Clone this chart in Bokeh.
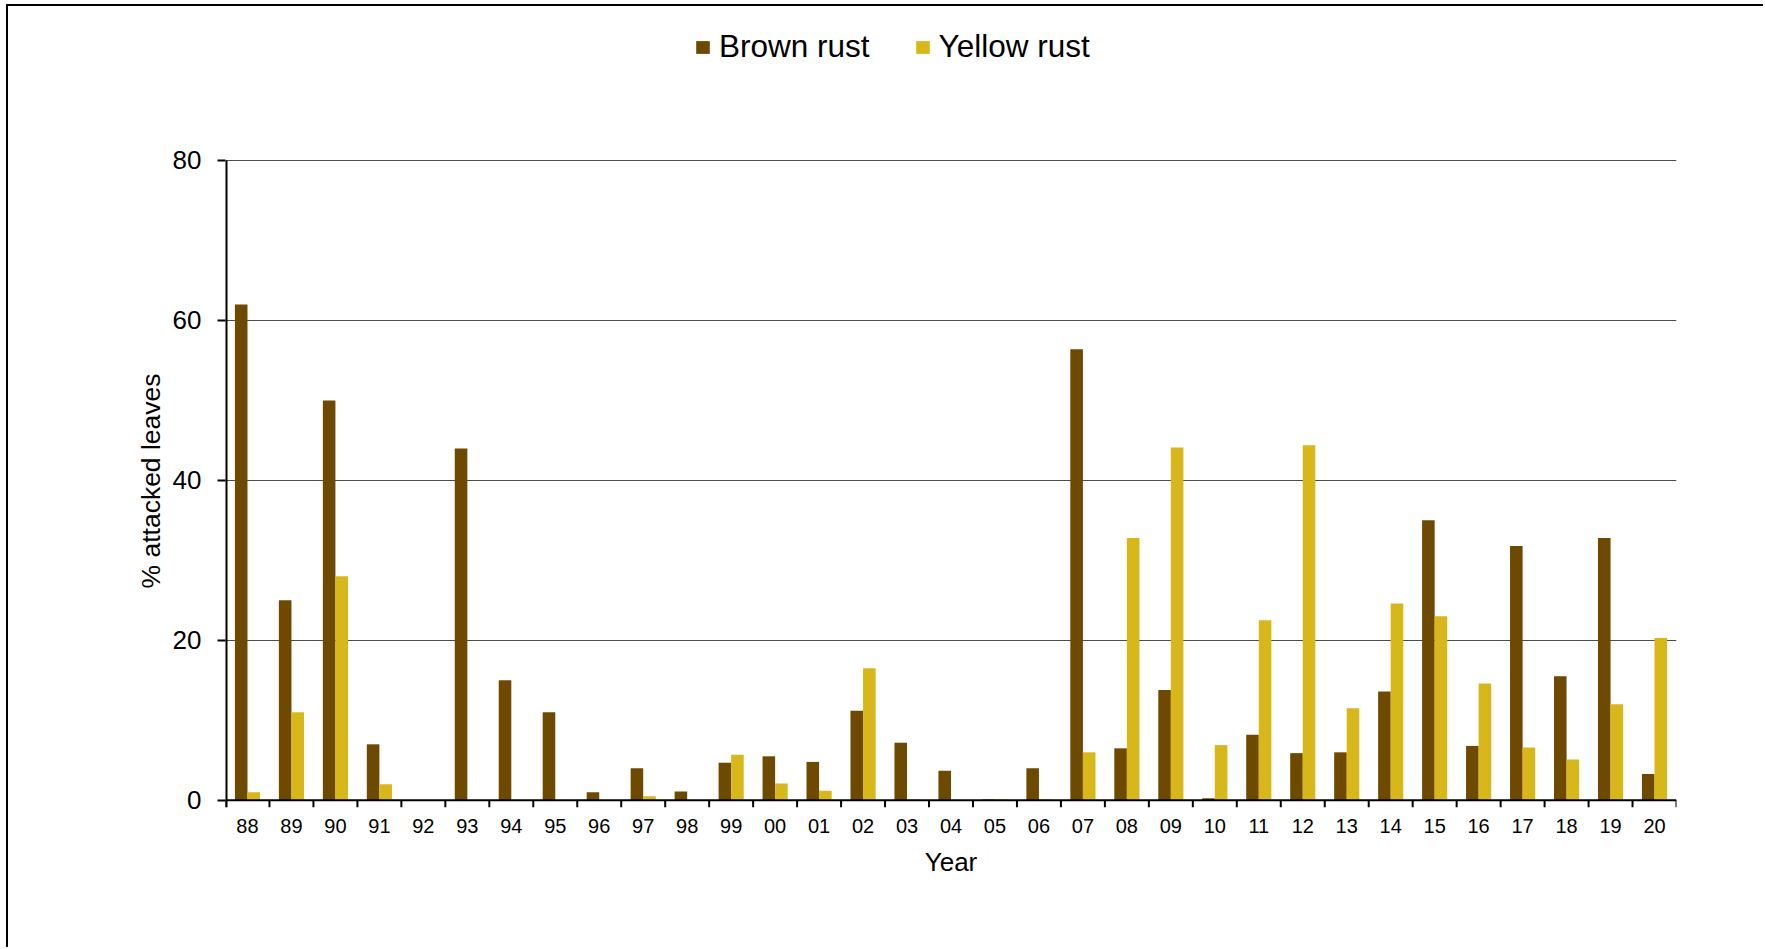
from bokeh.plotting import figure
from bokeh.models import (ColumnDataSource, Range1d, FixedTicker, Legend, LegendItem,
                          Span, Title)
from bokeh.embed import file_html
from bokeh.resources import INLINE

years = ["88", "89", "90", "91", "92", "93", "94", "95", "96", "97", "98", "99",
         "00", "01", "02", "03", "04", "05", "06", "07", "08", "09", "10", "11",
         "12", "13", "14", "15", "16", "17", "18", "19", "20"]
brown_rust = [62, 25, 50, 7, 0, 44, 15, 11, 1, 4, 1.1, 4.7, 5.5, 4.8, 11.2, 7.2,
              3.7, 0.1, 4.0, 56.4, 6.5, 13.8, 0.25, 8.2, 5.9, 6.0, 13.6, 35.0,
              6.8, 31.8, 15.5, 32.8, 3.3]
yellow_rust = [1.0, 11, 28, 2, 0, 0, 0, 0, 0, 0.5, 0, 5.7, 2.1, 1.2, 16.5, 0.1,
               0, 0.1, 0.1, 6.0, 32.8, 44.1, 6.9, 22.5, 44.4, 11.5, 24.6, 23.0,
               14.6, 6.6, 5.1, 12.0, 20.3]
y_ticks = [0, 20, 40, 60, 80]

BROWN = "#6E4A00"
YELLOW = "#D7B71A"
FONT = "Liberation Sans"

n = len(years)
centers = [i + 0.5 for i in range(n)]
bw = 0.286
y_min, y_max, y_top = -0.9, 80, 99.25

src = ColumnDataSource(dict(
    xb=[c - bw / 2 for c in centers],
    xy=[c + bw / 2 for c in centers],
    brown=brown_rust,
    yellow=yellow_rust,
))

p = figure(width=1757, height=943, output_backend="svg", toolbar_location=None,
           x_range=Range1d(0, n), y_range=Range1d(y_min, y_top),
           min_border_left=217, min_border_right=89, min_border_top=0,
           min_border_bottom=142)
p.outline_line_color = None
p.background_fill_color = "white"
p.border_fill_color = "white"
p.styles = {"border-top": "2px solid black", "border-left": "2px solid black",
            "margin-left": "6px", "margin-top": "4px"}

rb = p.vbar(x="xb", top="brown", bottom=0, width=bw, source=src,
            fill_color=BROWN, line_color=None)
ry = p.vbar(x="xy", top="yellow", bottom=0, width=bw, source=src,
            fill_color=YELLOW, line_color=None)

# grid
p.xgrid.visible = False
p.ygrid.ticker = FixedTicker(ticks=y_ticks[1:])
p.ygrid.grid_line_color = "#4d4d4d"
p.ygrid.grid_line_width = 1

# x axis line, y axis line and boundary ticks
p.add_layout(Span(location=0, dimension="width", line_color="black", line_width=2))
bounds = list(range(n + 1))
p.segment(x0=bounds, y0=[0] * len(bounds), x1=bounds, y1=[y_min] * len(bounds),
          line_color="black", line_width=2)
p.segment(x0=[0], y0=[y_min], x1=[0], y1=[y_max], line_color="black", line_width=4)

# x axis (labels only)
xa = p.xaxis[0]
xa.ticker = FixedTicker(ticks=centers)
xa.major_label_overrides = {c: y for c, y in zip(centers, years)}
xa.axis_line_color = None
xa.major_tick_line_color = None
xa.minor_tick_line_color = None
xa.major_label_standoff = 5
xa.major_label_text_font = FONT
xa.major_label_text_font_size = "20px"
xa.major_label_text_color = "black"
xa.axis_label = "Year"
xa.axis_label_text_font = FONT
xa.axis_label_text_font_size = "26px"
xa.axis_label_text_font_style = "normal"
xa.axis_label_text_color = "black"
xa.axis_label_standoff = 11

# y axis
ya = p.yaxis[0]
ya.ticker = FixedTicker(ticks=y_ticks)
ya.axis_line_color = None
ya.major_tick_line_color = "black"
ya.major_tick_line_width = 2
ya.major_tick_out = 8
ya.major_tick_in = 0
ya.minor_tick_line_color = None
ya.major_label_standoff = 16
ya.major_label_text_font = FONT
ya.major_label_text_font_size = "26px"
ya.major_label_text_color = "black"

ytitle = Title(text="% attacked leaves", align="left", offset=219, standoff=8,
               text_font=FONT, text_font_size="26.5px", text_font_style="normal",
               text_color="black")
p.add_layout(ytitle, "left")

legend = Legend(items=[LegendItem(label="Brown rust", renderers=[rb]),
                       LegendItem(label="Yellow rust", renderers=[ry])],
                orientation="horizontal", location=(469, 742))
legend.glyph_width = 17
legend.glyph_height = 16
legend.label_standoff = 8
legend.spacing = 44
legend.padding = 0
legend.margin = 0
legend.border_line_color = None
legend.background_fill_alpha = 0
legend.label_text_font = FONT
legend.label_text_font_size = "31.5px"
legend.label_text_color = "black"
p.add_layout(legend, "center")

open("out.html", "w").write(file_html(p, INLINE))
